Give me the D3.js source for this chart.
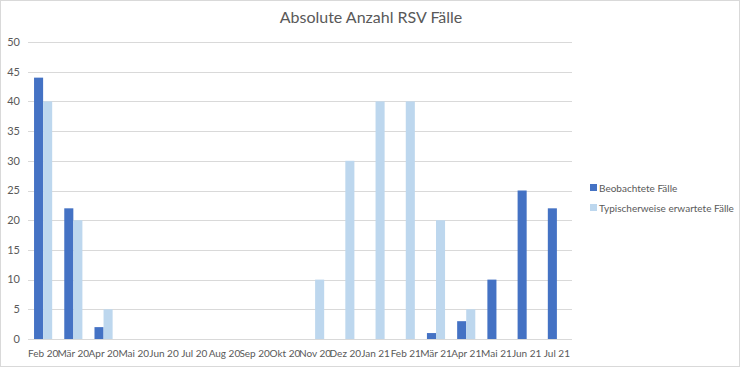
<!DOCTYPE html>
<html>
<head>
<meta charset="utf-8">
<script src="https://cdn.jsdelivr.net/npm/d3@7"></script>
<style>
  body { margin: 0; background: #fff; }
  text { font-family: Lato, "Liberation Sans", sans-serif; fill: #595959; }
</style>
</head>
<body>
<div id="chart"></div>
<script>
const months = ["Feb 20", "Mär 20", "Apr 20", "Mai 20", "Jun 20", "Jul 20", "Aug 20", "Sep 20", "Okt 20",
  "Nov 20", "Dez 20", "Jan 21", "Feb 21", "Mär 21", "Apr 21", "Mai 21", "Jun 21", "Jul 21"];
const observed = [44, 22, 2, 0, 0, 0, 0, 0, 0, 0, 0, 0, 0, 1, 3, 10, 25, 22];
const expected = [40, 20, 5, 0, 0, 0, 0, 0, 0, 10, 30, 40, 40, 20, 5, 0, 0, 0];
const seriesNames = ["Beobachtete Fälle", "Typischerweise erwartete Fälle"];
const colors = ["#4472C4", "#BDD7EE"];
const yTicks = [0, 5, 10, 15, 20, 25, 30, 35, 40, 45, 50];

const W = 740, H = 367;
const margin = {top: 42, right: 168, bottom: 28, left: 28},
    width = W - margin.left - margin.right,
    height = H - margin.top - margin.bottom;

const root = d3.select("#chart").append("svg")
    .attr("width", W)
    .attr("height", H);

// outer frame
root.append("rect")
    .attr("x", 0.5).attr("y", 0.5)
    .attr("width", W - 1).attr("height", H - 1)
    .attr("fill", "#fff").attr("stroke", "#d9d9d9");

root.append("text")
    .attr("x", 371).attr("y", 23)
    .attr("text-anchor", "middle")
    .style("font-size", "16px")
    .text("Absolute Anzahl RSV Fälle");

const svg = root.append("g")
    .attr("transform", `translate(${margin.left},${margin.top})`);

const x0 = d3.scaleBand().domain(months).range([0, width]);
const y = d3.scaleLinear().domain([0, 50]).range([height, 0]);

// gridlines
svg.append("g")
  .selectAll("line")
  .data(yTicks)
  .join("line")
    .attr("x1", 0).attr("x2", width)
    .attr("y1", d => Math.round(y(d)) + 0.5)
    .attr("y2", d => Math.round(y(d)) + 0.5)
    .attr("stroke", "#d9d9d9");

// y axis labels
svg.append("g")
  .selectAll("text")
  .data(yTicks)
  .join("text")
    .attr("x", -8)
    .attr("y", d => y(d))
    .attr("dy", "0.35em")
    .attr("text-anchor", "end")
    .style("font-size", "11px")
    .text(d => d);

// x axis labels
svg.append("g")
  .selectAll("text")
  .data(months)
  .join("text")
    .attr("x", d => x0(d) + x0.bandwidth() / 2)
    .attr("y", height + 18)
    .attr("text-anchor", "middle")
    .style("font-size", "10px")
    .text(d => d);

const bw = x0.bandwidth() * 0.3;
const series = [observed, expected];
series.forEach((vals, s) => {
  svg.append("g")
    .selectAll("rect")
    .data(months)
    .join("rect")
      .attr("x", d => x0(d) + x0.bandwidth() / 2 - bw + s * bw)
      .attr("y", (d, i) => y(vals[i]))
      .attr("width", bw)
      .attr("height", (d, i) => y(0) - y(vals[i]))
      .attr("fill", colors[s]);
});

// legend
const legend = root.append("g").attr("transform", "translate(590,188)");
seriesNames.forEach((name, i) => {
  legend.append("rect")
    .attr("x", 0).attr("y", i * 20 - 4)
    .attr("width", 7).attr("height", 7)
    .attr("fill", colors[i]);
  legend.append("text")
    .attr("x", 9).attr("y", i * 20)
    .attr("dy", "0.35em")
    .style("font-size", "10px")
    .text(name);
});
</script>
</body>
</html>
